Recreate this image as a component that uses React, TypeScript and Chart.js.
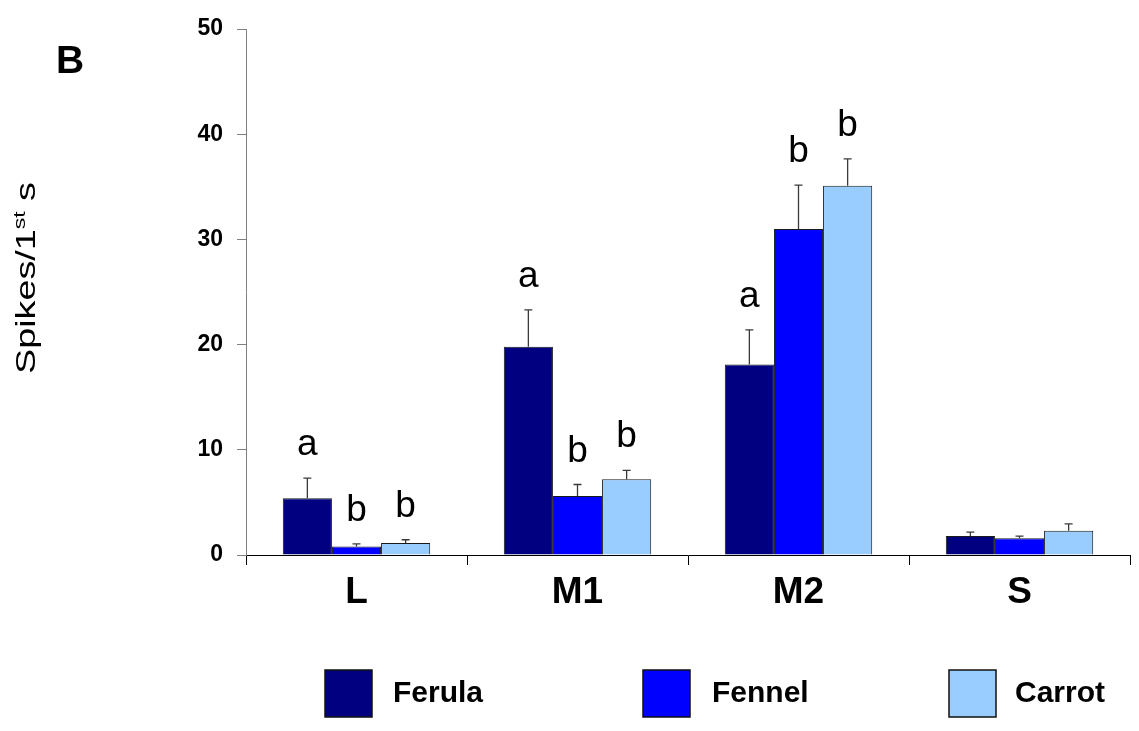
import React, { useEffect, useRef } from "react";
import { Chart, registerables } from "chart.js";

Chart.register(...registerables);

const categories = ["L", "M1", "M2", "S"];
const seriesNames = ["Ferula", "Fennel", "Carrot"];
const ferula = [5.4, 19.8, 18.1, 1.8];
const fennel = [0.8, 5.6, 31.0, 1.6];
const carrot = [1.15, 7.2, 35.1, 2.3];
const ferulaErr = [1.9, 3.5, 3.3, 0.38];
const fennelErr = [0.25, 1.1, 4.15, 0.19];
const carrotErr = [0.3, 0.85, 2.55, 0.66];
const ferulaLetters = ["a", "a", "a", ""];
const fennelLetters = ["b", "b", "b", ""];
const carrotLetters = ["b", "b", "b", ""];
const yTicks = [0, 10, 20, 30, 40, 50];
const seriesColors = ["#000080", "#0000FF", "#99CCFF"];

const FONT = "Arial, 'Liberation Sans', sans-serif";

const errors = [ferulaErr, fennelErr, carrotErr];
const letters = [ferulaLetters, fennelLetters, carrotLetters];

const decorPlugin = {
  id: "decor",
  afterDatasetsDraw(chart: any) {
    const ctx = chart.ctx;
    const yScale = chart.scales.y;
    ctx.save();
    chart.data.datasets.forEach((ds: any, di: number) => {
      const meta = chart.getDatasetMeta(di);
      meta.data.forEach((bar: any, i: number) => {
        const v = ds.data[i];
        const e = errors[di][i];
        const yTop = yScale.getPixelForValue(v + e);
        const yBar = yScale.getPixelForValue(v);
        ctx.strokeStyle = "#3a3a3a";
        ctx.lineWidth = 1.3;
        ctx.beginPath();
        ctx.moveTo(bar.x, yBar);
        ctx.lineTo(bar.x, yTop);
        ctx.moveTo(bar.x - 4, yTop);
        ctx.lineTo(bar.x + 4, yTop);
        ctx.stroke();
        const lt = letters[di][i];
        if (lt) {
          ctx.fillStyle = "#000";
          ctx.font = `normal 37px ${FONT}`;
          ctx.textAlign = "center";
          ctx.textBaseline = "alphabetic";
          ctx.fillText(lt, bar.x, yTop - 23);
        }
      });
    });
    ctx.restore();
  },
  afterDraw(chart: any) {
    const ctx = chart.ctx;
    ctx.save();
    // panel label
    ctx.fillStyle = "#000";
    ctx.font = `bold 39px ${FONT}`;
    ctx.textAlign = "center";
    ctx.textBaseline = "alphabetic";
    ctx.fillText("B", 70, 73);

    // y-axis title with superscript (stretched along its length)
    const size = 28;
    const supSize = 17;
    const p1 = "Spikes/1";
    const p2 = "st";
    const p3 = " s";
    ctx.font = `normal ${size}px ${FONT}`;
    const w1 = ctx.measureText(p1).width;
    const w3 = ctx.measureText(p3).width;
    ctx.font = `normal ${supSize}px ${FONT}`;
    const w2 = ctx.measureText(p2).width;
    const total = w1 + w2 + w3;
    const targetLen = 192;
    const sx = targetLen / total;
    ctx.translate(35, 278);
    ctx.rotate(-Math.PI / 2);
    ctx.scale(sx, 1);
    ctx.textAlign = "left";
    let x = -total / 2;
    ctx.font = `normal ${size}px ${FONT}`;
    ctx.fillText(p1, x, 0);
    x += w1;
    ctx.font = `normal ${supSize}px ${FONT}`;
    ctx.fillText(p2, x, -10);
    x += w2;
    ctx.font = `normal ${size}px ${FONT}`;
    ctx.fillText(p3, x, 0);
    ctx.setTransform(1, 0, 0, 1, 0, 0);

    // legend
    const boxX = [325, 643, 949];
    const textX = [393, 712, 1015];
    chart.data.datasets.forEach((ds: any, di: number) => {
      ctx.fillStyle = ds.backgroundColor;
      ctx.fillRect(boxX[di], 670, 47, 47);
      ctx.strokeStyle = "#111";
      ctx.lineWidth = 1.5;
      ctx.strokeRect(boxX[di], 670, 47, 47);
      ctx.fillStyle = "#000";
      ctx.font = `bold 30px ${FONT}`;
      ctx.textAlign = "left";
      ctx.textBaseline = "alphabetic";
      ctx.fillText(ds.label, textX[di], 702);
    });
    ctx.restore();
  },
};

export default function App() {
  const ref = useRef<HTMLCanvasElement | null>(null);
  useEffect(() => {
    if (!ref.current) return;
    const datasetsValues = [ferula, fennel, carrot];
    const chart = new Chart(ref.current, {
      type: "bar",
      data: {
        labels: categories,
        datasets: seriesNames.map((name, i) => ({
          label: name,
          data: datasetsValues[i],
          backgroundColor: seriesColors[i],
          borderColor: "#1a1a1a",
          borderWidth: 1,
          barPercentage: 1,
          categoryPercentage: 0.667,
        })),
      },
      options: {
        responsive: false,
        animation: false,
        layout: { padding: { top: 29, right: 9, bottom: 0, left: 0 } },
        plugins: {
          legend: { display: false },
          tooltip: { enabled: false },
        },
        scales: {
          x: {
            grid: {
              display: true,
              drawOnChartArea: false,
              drawTicks: true,
              tickLength: 10,
              color: "#000",
              offset: true,
            },
            border: { color: "#000", width: 1 },
            ticks: {
              color: "#000",
              font: { family: FONT, size: 37, weight: "bold" },
              padding: 6,
            },
            afterFit(scale: any) {
              scale.height = 176;
            },
          },
          y: {
            min: 0,
            max: 50,
            grid: {
              display: true,
              drawOnChartArea: false,
              drawTicks: true,
              tickLength: 9,
              color: "#808080",
            },
            border: { color: "#808080", width: 1 },
            afterBuildTicks(scale: any) {
              scale.ticks = yTicks.map((v) => ({ value: v }));
            },
            ticks: {
              color: "#000",
              font: { family: FONT, size: 23, weight: "bold" },
              padding: 14,
            },
            afterFit(scale: any) {
              scale.width = 246;
            },
          },
        },
      },
      plugins: [decorPlugin],
    } as any);
    return () => chart.destroy();
  }, []);
  return (
    <div style={{ position: "absolute", left: 0, top: 0, width: 1139, height: 731, background: "#fff" }}>
      <canvas ref={ref} width={1139} height={731} style={{ display: "block" }} />
    </div>
  );
}
